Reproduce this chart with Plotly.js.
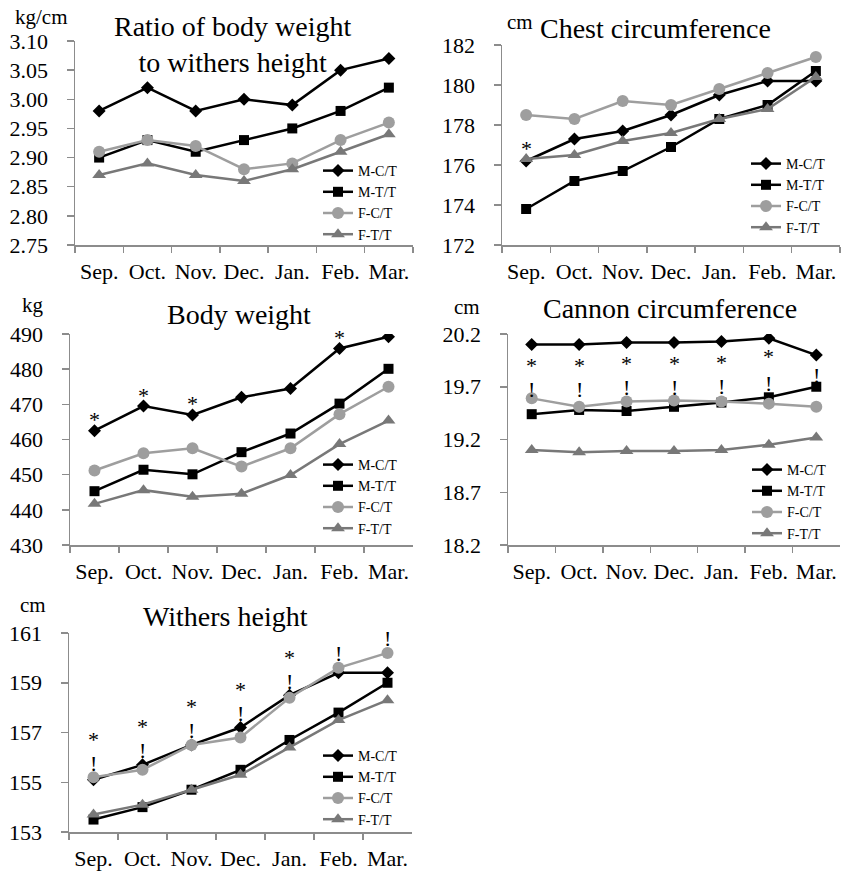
<!DOCTYPE html>
<html>
<head>
<meta charset="utf-8">
<script src="https://cdn.plot.ly/plotly-3.0.1.min.js"></script>
<style>html,body{margin:0;padding:0;background:#fff;}#chart{width:841px;height:872px;}</style>
</head>
<body>
<div id="chart"></div>
<script>
// ---- data ----
const months = ["Sep.", "Oct.", "Nov.", "Dec.", "Jan.", "Feb.", "Mar."];
const groups = ["M-C/T", "M-T/T", "F-C/T", "F-T/T"];

const ratioMC = [2.98, 3.02, 2.98, 3.00, 2.99, 3.05, 3.07];
const ratioMT = [2.90, 2.93, 2.91, 2.93, 2.95, 2.98, 3.02];
const ratioFC = [2.91, 2.93, 2.92, 2.88, 2.89, 2.93, 2.96];
const ratioFT = [2.87, 2.89, 2.87, 2.86, 2.88, 2.91, 2.94];

const chestMC = [176.2, 177.3, 177.7, 178.5, 179.5, 180.2, 180.2];
const chestMT = [173.8, 175.2, 175.7, 176.9, 178.3, 179.0, 180.7];
const chestFC = [178.5, 178.3, 179.2, 179.0, 179.8, 180.6, 181.4];
const chestFT = [176.3, 176.5, 177.2, 177.6, 178.3, 178.8, 180.4];

const bwMC = [462.5, 469.5, 467.0, 472.0, 474.5, 485.9, 489.2];
const bwMT = [445.3, 451.4, 450.1, 456.4, 461.7, 470.2, 480.1];
const bwFC = [451.2, 456.1, 457.5, 452.3, 457.5, 467.2, 475.0];
const bwFT = [441.7, 445.6, 443.7, 444.6, 449.9, 458.7, 465.4];

const canMC = [20.10, 20.10, 20.12, 20.12, 20.13, 20.16, 20.00];
const canMT = [19.44, 19.48, 19.47, 19.51, 19.55, 19.60, 19.70];
const canFC = [19.59, 19.51, 19.56, 19.57, 19.56, 19.54, 19.51];
const canFT = [19.10, 19.08, 19.09, 19.09, 19.10, 19.15, 19.22];

const whMC = [155.1, 155.7, 156.5, 157.2, 158.5, 159.4, 159.4];
const whMT = [153.5, 154.0, 154.7, 155.5, 156.7, 157.8, 159.0];
const whFC = [155.2, 155.5, 156.5, 156.8, 158.4, 159.6, 160.2];
const whFT = [153.7, 154.1, 154.7, 155.3, 156.4, 157.5, 158.3];

const titles = ["Ratio of body weight<br>to withers height", "Chest circumference", "Body weight", "Cannon circumference", "Withers height"];
const units = ["kg/cm", "cm", "kg", "cm", "cm"];

// significance marks: month indices
const chestStar = [0];
const bwStar = [0, 1, 2, 5];
const canStar = [0, 1, 2, 3, 4, 5];
const canBang = [0, 1, 2, 3, 4, 5, 6];
const whStar = [0, 1, 2, 3, 4];
const whBang = [0, 1, 2, 3, 4, 5, 6];

// ---- styling ----
const FONT = "Liberation Serif";
const styles = [
  {color: "#000000", symbol: "diamond", size: 10},
  {color: "#000000", symbol: "square", size: 10},
  {color: "#9e9e9e", symbol: "circle", size: 12},
  {color: "#787878", symbol: "triangle-up", size: 12}
];
const W = 841, H = 872;
const panels = [
  {series: [ratioMC, ratioMT, ratioFC, ratioFT], px: [75, 413], py: [41, 245], range: [2.75, 3.10], dtick: 0.05, fmt: ".2f", leg: [318, 155]},
  {series: [chestMC, chestMT, chestFC, chestFT], px: [502, 840], py: [45, 245], range: [172, 182], dtick: 2, fmt: "d", leg: [746, 148]},
  {series: [bwMC, bwMT, bwFC, bwFT], px: [70, 413], py: [334, 545], range: [430, 490], dtick: 10, fmt: "d", leg: [318, 449]},
  {series: [canMC, canMT, canFC, canFT], px: [508, 840], py: [334, 545], range: [18.2, 20.2], dtick: 0.5, fmt: ".1f", leg: [747, 454]},
  {series: [whMC, whMT, whFC, whFT], px: [69, 412], py: [633, 832], range: [153, 161], dtick: 2, fmt: "d", leg: [318, 740]}
];

const data = [];
const layout = {
  width: W, height: H,
  margin: {l: 0, r: 0, t: 0, b: 0},
  paper_bgcolor: "#fff", plot_bgcolor: "#fff",
  font: {family: FONT, size: 22, color: "#000"},
  showlegend: true,
  annotations: []
};

panels.forEach((p, k) => {
  const n = k + 1;
  const xa = "xaxis" + (n === 1 ? "" : n), ya = "yaxis" + (n === 1 ? "" : n);
  const xr = "x" + (n === 1 ? "" : n), yr = "y" + (n === 1 ? "" : n);
  const lg = "legend" + (n === 1 ? "" : n);
  layout[xa] = {
    domain: [p.px[0] / W, p.px[1] / W], anchor: yr, type: "category",
    range: [-0.5, 6.5], tickson: "boundaries", ticks: "outside", ticklen: 6, tickwidth: 1.5,
    tickcolor: "#8c8c8c", showline: true, linecolor: "#8c8c8c", linewidth: 1.5,
    showgrid: false, zeroline: false, fixedrange: true, ticklabelstandoff: 6,
    tickangle: 0, automargin: false,
    tickfont: {family: FONT, size: 22, color: "#000"}
  };
  layout[ya] = {
    domain: [1 - p.py[1] / H, 1 - p.py[0] / H], anchor: xr,
    range: p.range, dtick: p.dtick, tick0: p.range[0], tickformat: p.fmt,
    ticks: "outside", ticklen: 7, tickwidth: 1.5, tickcolor: "#8c8c8c",
    showline: true, linecolor: "#8c8c8c", linewidth: 1.5,
    showgrid: false, zeroline: false, fixedrange: true, ticklabelstandoff: 14,
    automargin: false,
    tickfont: {family: FONT, size: 22, color: "#000"}
  };
  layout[lg] = {
    x: p.leg[0] / W, y: 1 - p.leg[1] / H, xanchor: "left", yanchor: "top",
    bgcolor: "rgba(0,0,0,0)", font: {family: FONT, size: 14, color: "#000"},
    tracegroupgap: 0, itemwidth: 30
  };
  p.series.forEach((vals, i) => {
    data.push({
      type: "scatter", mode: "lines+markers", x: months, y: vals, name: groups[i],
      xaxis: xr, yaxis: yr, legend: lg, showlegend: true,
      line: {color: styles[i].color, width: 2.5},
      marker: {color: styles[i].color, symbol: styles[i].symbol, size: styles[i].size}
    });
  });
  // title
  const tcx = [232, 655, 239, 670, 226][k];
  const tcy = [44, 28, 314, 308, 616][k];
  layout.annotations.push({
    text: titles[k], xref: "paper", yref: "paper", x: tcx / W, y: 1 - tcy / H,
    xanchor: "center", yanchor: "middle", showarrow: false,
    font: {family: FONT, size: 28, color: "#000"}
  });
  // unit
  const ux = [13, 505, 20, 452, 18][k];
  const uy = [17, 22, 305, 307, 605][k];
  layout.annotations.push({
    text: units[k], xref: "paper", yref: "paper", x: ux / W, y: 1 - uy / H,
    xanchor: "left", yanchor: "middle", showarrow: false,
    font: {family: FONT, size: 21, color: "#000"}
  });
});

function mark(txt, xr, yr, i, yv, shift) {
  layout.annotations.push({
    text: txt, xref: xr, yref: yr, x: months[i], y: yv, yshift: shift,
    showarrow: false, xanchor: "center", yanchor: "middle",
    font: {family: FONT, size: 22, color: "#000"}
  });
}
chestStar.forEach(i => mark("*", "x2", "y2", i, chestMC[i], 13));
bwStar.forEach(i => mark("*", "x3", "y3", i, bwMC[i], 11));
canStar.forEach(i => mark("*", "x4", "y4", i, canMC[i], i === 5 ? -18 : -21));
canBang.forEach(i => mark("!", "x4", "y4", i, canMC[i], i === 6 ? -20 : -45));
whStar.forEach(i => mark("*", "x5", "y5", i, Math.max(whMC[i], whFC[i]), 38));
whBang.forEach(i => mark("!", "x5", "y5", i, Math.max(whMC[i], whFC[i]), 14));

Plotly.newPlot("chart", data, layout, {displayModeBar: false, staticPlot: true});
</script>
</body>
</html>
